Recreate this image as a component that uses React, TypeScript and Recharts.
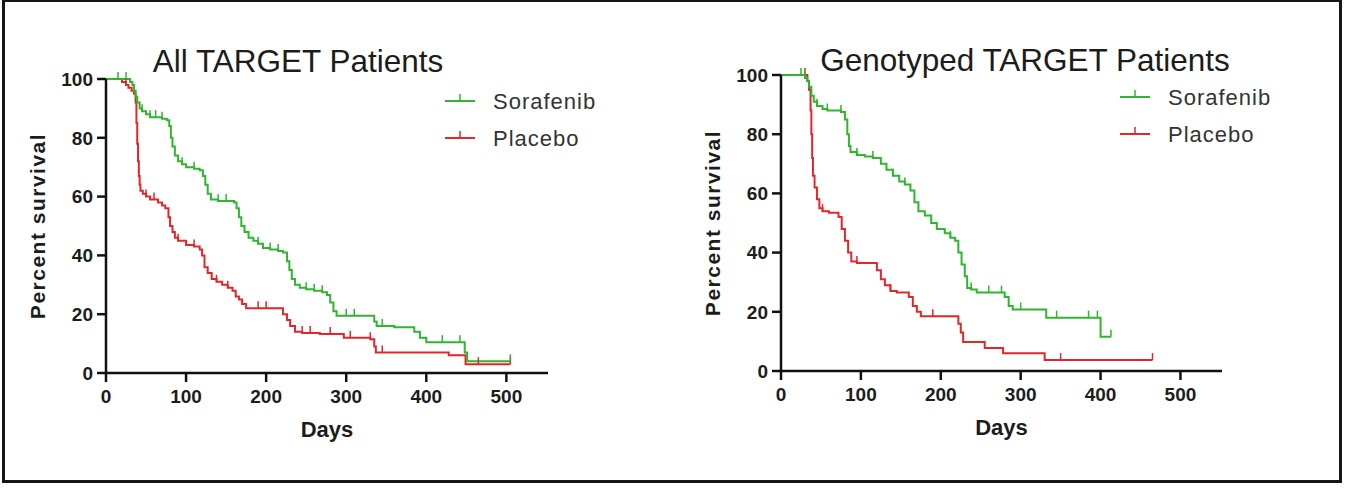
import React from "react";
import { LineChart, Line, XAxis, YAxis } from "recharts";

const dayTicks = [0, 100, 200, 300, 400, 500];
const pctTicks = [0, 20, 40, 60, 80, 100];

// All TARGET patients: [day, percent surviving]
const allSorafenib = [
  [0, 100], [15, 100], [25, 100], [30, 99], [33, 98], [35, 96], [37, 94], [39, 92], [42, 90], [45, 89],
  [50, 88], [55, 87], [62, 87], [70, 86.5], [76, 86], [79, 84], [81, 80], [83, 77], [86, 74], [90, 72],
  [95, 71], [100, 70], [110, 69.5], [117, 69], [121, 67], [124, 64], [127, 61], [131, 59], [140, 58.5],
  [150, 58.5], [160, 58], [163, 56], [166, 53], [169, 50], [173, 48], [178, 46], [184, 45], [190, 44],
  [196, 42.5], [205, 42], [215, 41.5], [221, 41], [226, 38], [229, 35], [232, 32], [236, 30], [242, 29],
  [250, 28.5], [260, 28], [270, 27.5], [276, 26.5], [280, 24], [284, 21], [288, 19.5], [300, 19.5],
  [310, 19.5], [335, 17.5], [338, 16], [345, 16], [360, 15.6], [385, 14], [392, 12], [400, 10.5],
  [420, 10.5], [442, 10.5], [448, 7], [451, 4], [460, 4], [505, 4],
];
const allSorafenibCensored = [15, 25, 45, 55, 62, 70, 95, 110, 140, 150, 190, 205, 215, 250, 260, 270, 300, 310, 345, 420, 442, 505];

const allPlacebo = [
  [0, 100], [20, 99], [25, 98], [28, 97], [32, 96], [35, 95], [37, 92], [38, 85], [39, 78], [40, 72],
  [41, 67], [42, 64], [43, 62], [46, 61], [50, 60], [55, 59], [60, 59], [65, 58], [70, 57], [74, 56],
  [78, 53], [80, 50], [83, 48], [86, 46], [90, 45], [100, 43.5], [110, 43], [117, 42], [120, 40],
  [123, 36], [127, 34], [132, 32], [138, 31], [145, 30], [152, 29], [158, 28], [162, 26], [166, 25],
  [170, 23.5], [175, 22], [190, 22], [200, 22], [215, 22], [221, 20], [226, 18], [230, 16], [236, 14],
  [245, 13.6], [255, 13.6], [267, 13.3], [280, 13.3], [297, 12], [305, 12], [310, 12], [330, 11.5],
  [335, 9], [337, 7], [345, 7], [428, 6], [449, 3], [465, 3], [505, 3],
];
const allPlaceboCensored = [25, 50, 60, 90, 110, 138, 152, 190, 200, 245, 255, 280, 305, 330, 345, 465, 505];

// Genotyped TARGET patients
const genoSorafenib = [
  [0, 100], [25, 100], [30, 99], [33, 98], [35, 96], [38, 93], [41, 91], [45, 89.5], [52, 88.5], [58, 88],
  [65, 88], [75, 87.5], [80, 85], [83, 80], [85, 76], [87, 74], [95, 73], [105, 72.5], [115, 72], [120, 72],
  [125, 70], [132, 68], [140, 66], [148, 64], [155, 63], [162, 61], [167, 57], [172, 54], [180, 52.5],
  [188, 50], [195, 48], [205, 46.5], [212, 45], [218, 44], [222, 40], [226, 36], [230, 32], [233, 28],
  [238, 27.5], [245, 26.5], [260, 26.5], [276, 26.5], [280, 25], [285, 22], [290, 20.8], [300, 20.8],
  [332, 18], [345, 18], [385, 18], [396, 18], [400, 11.6], [413, 11.6],
];
const genoSorafenibCensored = [25, 30, 45, 58, 75, 95, 115, 140, 155, 212, 238, 260, 276, 300, 345, 385, 396, 413];

const genoPlacebo = [
  [0, 100], [30, 100], [33, 98], [35, 95], [37, 88], [38, 80], [39, 72], [40, 66], [42, 62], [45, 58],
  [48, 55], [52, 54], [60, 53.5], [72, 52], [76, 48], [80, 44], [84, 40], [88, 37], [95, 36.5], [115, 36.5],
  [120, 34], [125, 31], [130, 29], [137, 27], [145, 26.5], [160, 25], [165, 22], [170, 20], [175, 18.5],
  [190, 18.5], [219, 18.5], [222, 16], [225, 13], [228, 9.8], [255, 7.8], [278, 6], [330, 3.7], [350, 3.7],
  [465, 3.7],
];
const genoPlaceboCensored = [30, 52, 95, 137, 190, 350, 465];

const GREEN = "#2fb52f";
const RED = "#e3262b";
const FONT = "'Liberation Sans', Arial, sans-serif";

const toRows = (pts: number[][]) => pts.map(([t, s]) => ({ t, s }));

const censorDot = (color: string, cens: number[]) => (props: any) => {
  const { cx, cy, payload, index } = props;
  if (!cens.includes(payload.t)) return <g key={`d${index}`} />;
  return <line key={`d${index}`} x1={cx} x2={cx} y1={cy} y2={cy - 7} stroke={color} strokeWidth={1.5} />;
};

const axisStyle = { stroke: "#111", strokeWidth: 2.5 };
const tickStyle = { fill: "#1c1c1c", fontSize: 19, fontWeight: 700, fontFamily: FONT };

interface KmProps {
  left: number;
  margin: { top: number; right: number; bottom: number; left: number };
  sorafenib: number[][];
  sorafenibCens: number[];
  placebo: number[][];
  placeboCens: number[];
}

const KmChart: React.FC<KmProps> = ({ left, margin, sorafenib, sorafenibCens, placebo, placeboCens }) => (
  <div style={{ position: "absolute", left, top: 0 }}>
    <LineChart width={600} height={460} margin={margin}>
      <XAxis
        type="number"
        dataKey="t"
        domain={[0, 552]}
        ticks={dayTicks}
        height={1}
        axisLine={axisStyle}
        tickLine={axisStyle}
        tickSize={9}
        tickMargin={8}
        tick={tickStyle}
        allowDataOverflow
        label={{
          content: ({ viewBox }: any) => (
            <text x={viewBox.x + viewBox.width / 2} y={viewBox.y + 64} textAnchor="middle"
              style={{ fontSize: 22, fontWeight: 700, fontFamily: FONT, fill: "#1c1c1c" }}>
              Days
            </text>
          ),
        }}
      />
      <YAxis
        type="number"
        domain={[0, 100]}
        ticks={pctTicks}
        width={1}
        axisLine={axisStyle}
        tickLine={axisStyle}
        tickSize={9}
        tickMargin={4}
        tick={tickStyle}
        label={{
          content: ({ viewBox }: any) => {
            const cx = viewBox.x + viewBox.width - 69;
            const cy = viewBox.y + viewBox.height / 2;
            return (
              <text x={cx} y={cy} textAnchor="middle" dominantBaseline="central" transform={`rotate(-90, ${cx}, ${cy})`}
                style={{ fontSize: 21, fontWeight: 700, fontFamily: FONT, fill: "#1c1c1c", letterSpacing: 1.5 }}>
                Percent survival
              </text>
            );
          },
        }}
      />
      <Line data={toRows(placebo)} dataKey="s" type="stepAfter" stroke={RED} strokeWidth={2}
        dot={censorDot(RED, placeboCens)} activeDot={false} isAnimationActive={false} />
      <Line data={toRows(sorafenib)} dataKey="s" type="stepAfter" stroke={GREEN} strokeWidth={2}
        dot={censorDot(GREEN, sorafenibCens)} activeDot={false} isAnimationActive={false} />
    </LineChart>
  </div>
);

const LegendItem: React.FC<{ x: number; y: number; color: string; text: string }> = ({ x, y, color, text }) => (
  <g>
    <line x1={x} x2={x + 30} y1={y} y2={y} stroke={color} strokeWidth={2} />
    <line x1={x + 15} x2={x + 15} y1={y} y2={y - 7} stroke={color} strokeWidth={1.5} />
    <text x={x + 48} y={y} dominantBaseline="central"
      style={{ fontSize: 22, fontFamily: FONT, fill: "#333", letterSpacing: 1 }}>
      {text}
    </text>
  </g>
);

export default function App() {
  return (
    <div style={{ position: "absolute", left: 0, top: 0, width: 1350, height: 494, background: "#fff" }}>
      <div
        style={{
          position: "absolute", left: 2, top: -1, width: 1340, height: 484,
          border: "3px solid #161616", boxSizing: "border-box",
        }}
      />
      <KmChart
        left={0}
        margin={{ top: 79, right: 52, bottom: 86, left: 105 }}
        sorafenib={allSorafenib}
        sorafenibCens={allSorafenibCensored}
        placebo={allPlacebo}
        placeboCens={allPlaceboCensored}
      />
      <KmChart
        left={680}
        margin={{ top: 75, right: 58, bottom: 88, left: 100 }}
        sorafenib={genoSorafenib}
        sorafenibCens={genoSorafenibCensored}
        placebo={genoPlacebo}
        placeboCens={genoPlaceboCensored}
      />
      <svg width={1350} height={494} style={{ position: "absolute", left: 0, top: 0, pointerEvents: "none" }}>
        <text x={298} y={72} textAnchor="middle" style={{ fontSize: 31.5, fontFamily: FONT, fill: "#1c1c1c" }}>
          All TARGET Patients
        </text>
        <text x={1025} y={71} textAnchor="middle" style={{ fontSize: 31.5, fontFamily: FONT, fill: "#1c1c1c" }}>
          Genotyped TARGET Patients
        </text>
        <LegendItem x={445} y={101} color={GREEN} text="Sorafenib" />
        <LegendItem x={445} y={138} color={RED} text="Placebo" />
        <LegendItem x={1120} y={97} color={GREEN} text="Sorafenib" />
        <LegendItem x={1120} y={134} color={RED} text="Placebo" />
      </svg>
    </div>
  );
}
